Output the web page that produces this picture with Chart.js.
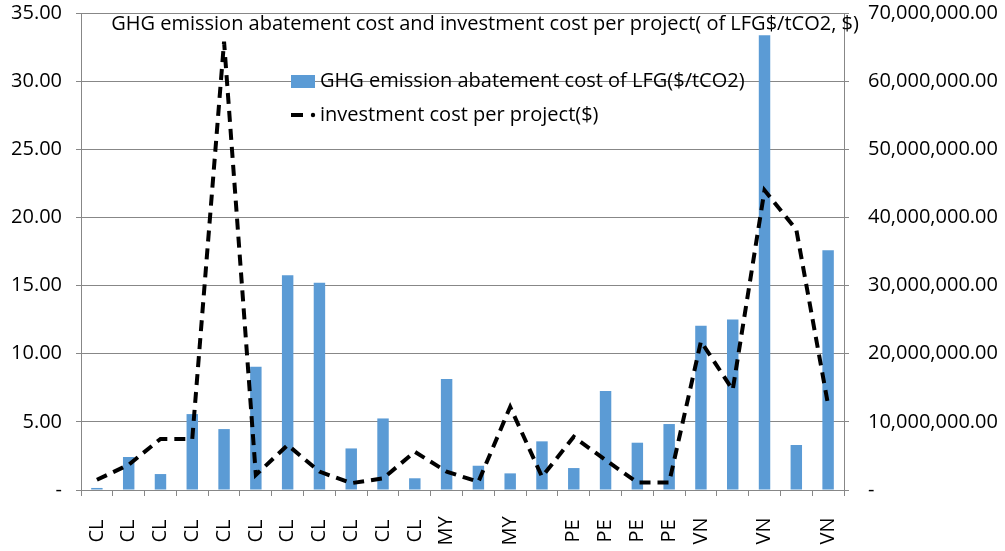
<!DOCTYPE html>
<html>
<head>
<meta charset="utf-8">
<script src="https://cdn.jsdelivr.net/npm/chart.js@4.4.1/dist/chart.umd.min.js"></script>
<style>
  html, body { margin: 0; padding: 0; background: #fff; }
  #wrap { width: 1005px; height: 551px; position: relative; }
</style>
</head>
<body>
<div id="wrap"><canvas id="grafico" width="1005" height="551"></canvas></div>
<script>
const categorias = ['CL', 'CL', 'CL', 'CL', 'CL', 'CL', 'CL', 'CL', 'CL', 'CL', 'CL',
    'MY', '', 'MY', '', 'PE', 'PE', 'PE', 'PE', 'VN', '', 'VN', '', 'VN'];

// custo de abatimento ($/tCO2) - eixo esquerdo
const custoAbatimento = [0.15, 2.42, 1.17, 5.57, 4.47, 9.04, 15.76, 15.2, 3.05, 5.25, 0.86,
    8.14, 1.78, 1.22, 3.57, 1.61, 7.26, 3.47, 4.84, 12.05, 12.51, 33.36, 3.3, 17.6];

// custo de investimento por projeto ($) - eixo direito
const custoInvestimento = [1.5e6, 3.7e6, 7.5e6, 7.5e6, 65.8e6, 2.2e6, 6.6e6, 2.7e6, 1.0e6, 1.7e6, 5.6e6,
    2.7e6, 1.2e6, 12.2e6, 1.95e6, 7.8e6, 4.4e6, 1.1e6, 1.1e6, 21.8e6, 14.7e6, 44e6, 38.2e6, 12.5e6];

const titulo = 'GHG emission abatement cost and investment cost per project( of LFG$/tCO2, $)';
const legendaBarra = 'GHG emission abatement cost of LFG($/tCO2)';
const legendaLinha = 'investment cost per project($)';

const FONTE = '"Open Sans", sans-serif';
const CINZA = '#878787';

function formataMilhoes(v) {
    if (v === 0) return '-';
    return v.toLocaleString('en-US', { minimumFractionDigits: 2, maximumFractionDigits: 2 });
}

// titulo, legenda e rotulos do eixo x desenhados por cima
const extras = {
    id: 'extras',
    afterDraw(chart) {
        const ctx = chart.ctx;
        const x = chart.scales.x;
        ctx.save();
        ctx.fillStyle = '#000';
        ctx.font = '20px ' + FONTE;
        ctx.textBaseline = 'middle';

        ctx.textAlign = 'center';
        ctx.fillText(titulo, 485, 24);

        // legenda
        ctx.textAlign = 'left';
        ctx.fillStyle = '#5B9BD5';
        ctx.fillRect(291, 75, 24, 13);
        ctx.fillStyle = '#000';
        ctx.fillText(legendaBarra, 320, 81);

        ctx.strokeStyle = '#000';
        ctx.lineWidth = 4;
        ctx.beginPath();
        ctx.moveTo(291, 115);
        ctx.lineTo(303, 115);
        ctx.stroke();
        ctx.beginPath();
        ctx.arc(313, 115, 2.2, 0, Math.PI * 2);
        ctx.fill();
        ctx.fillText(legendaLinha, 320, 115);

        // rotulos do eixo x (verticais)
        categorias.forEach((c, i) => {
            if (!c) return;
            const px = x.getPixelForValue(i);
            ctx.save();
            ctx.translate(px, 531);
            ctx.rotate(-Math.PI / 2);
            ctx.textAlign = 'center';
            ctx.fillText(c, 0, 0);
            ctx.restore();
        });
        ctx.restore();
    }
};

const ctx = document.getElementById('grafico').getContext('2d');
new Chart(ctx, {
    type: 'bar',
    data: {
        labels: categorias,
        datasets: [{
            type: 'line',
            label: legendaLinha,
            data: custoInvestimento,
            yAxisID: 'y2',
            borderColor: '#000',
            borderWidth: 4,
            borderDash: [11, 7],
            pointRadius: 0,
            tension: 0,
            fill: false,
            order: 0
        }, {
            label: legendaBarra,
            data: custoAbatimento,
            yAxisID: 'y',
            backgroundColor: '#5B9BD5',
            barPercentage: 0.36,
            categoryPercentage: 1,
            order: 1
        }]
    },
    plugins: [extras],
    options: {
        responsive: false,
        animation: false,
        layout: { padding: { top: 0, left: 0, right: 0, bottom: 0 } },
        plugins: {
            legend: { display: false },
            title: { display: false },
            tooltip: { enabled: false }
        },
        scales: {
            x: {
                offset: true,
                grid: { display: true, drawOnChartArea: false, color: CINZA, tickLength: 6, offset: true },
                border: { color: CINZA },
                ticks: { display: false },
                afterFit(s) { s.height = 61; }
            },
            y: {
                position: 'left',
                min: 0, max: 35,
                ticks: {
                    stepSize: 5,
                    color: '#000',
                    padding: 14,
                    font: { family: FONTE, size: 20, lineHeight: 1 },
                    callback: v => v === 0 ? '-' : v.toFixed(2)
                },
                grid: { color: CINZA, tickLength: 5 },
                border: { color: CINZA },
                afterFit(s) { s.width = 81; s.paddingTop = 13; }
            },
            y2: {
                position: 'right',
                min: 0, max: 70000000,
                ticks: {
                    stepSize: 10000000,
                    color: '#000',
                    padding: 19,
                    font: { family: FONTE, size: 20, lineHeight: 1 },
                    callback: v => formataMilhoes(v)
                },
                grid: { drawOnChartArea: false, color: CINZA, tickLength: 5 },
                border: { color: CINZA },
                afterFit(s) { s.width = 161; s.paddingTop = 13; }
            }
        }
    }
});
</script>
</body>
</html>
